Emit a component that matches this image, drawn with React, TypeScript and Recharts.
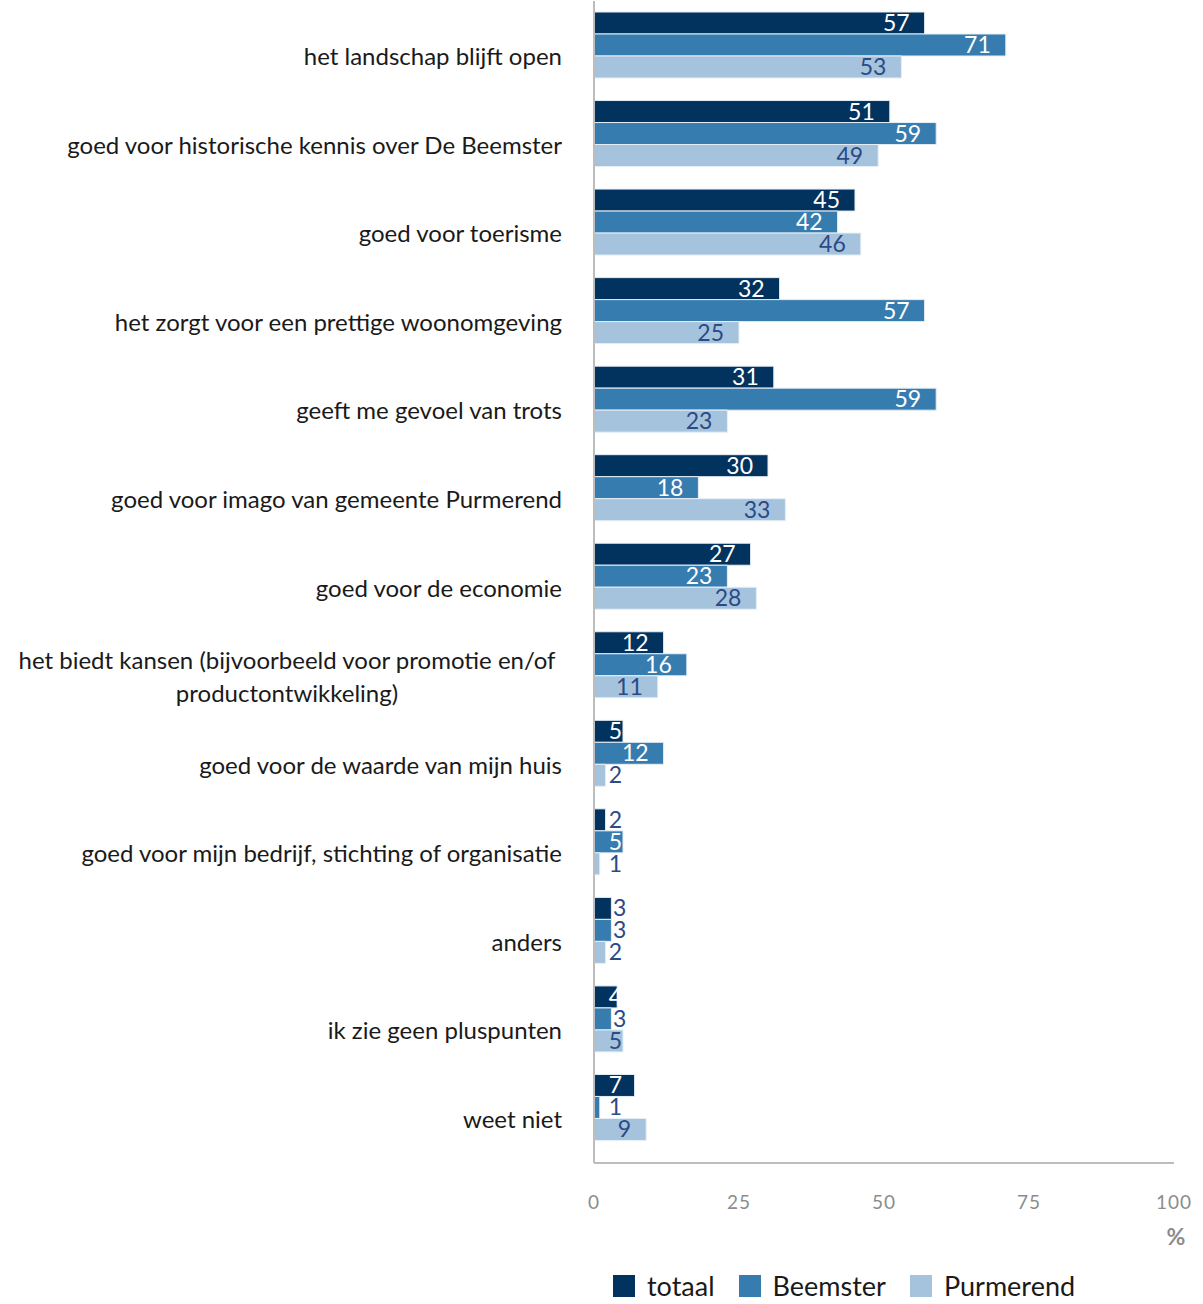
import { BarChart, Bar, XAxis, YAxis, Legend, LabelList } from "recharts"

const categories = [
  "het landschap blijft open",
  "goed voor historische kennis over De Beemster",
  "goed voor toerisme",
  "het zorgt voor een prettige woonomgeving",
  "geeft me gevoel van trots",
  "goed voor imago van gemeente Purmerend",
  "goed voor de economie",
  "het biedt kansen (bijvoorbeeld voor promotie en/of\nproductontwikkeling)",
  "goed voor de waarde van mijn huis",
  "goed voor mijn bedrijf, stichting of organisatie",
  "anders",
  "ik zie geen pluspunten",
  "weet niet",
]

const totaal = [57, 51, 45, 32, 31, 30, 27, 12, 5, 2, 3, 4, 7]
const beemster = [71, 59, 42, 57, 59, 18, 23, 16, 12, 5, 3, 3, 1]
const purmerend = [53, 49, 46, 25, 23, 33, 28, 11, 2, 1, 2, 5, 9]

const xTicks = [0, 25, 50, 75, 100]

const series = [
  { key: "totaal", name: "totaal", color: "#02335e", lightLabel: true },
  { key: "beemster", name: "Beemster", color: "#377caf", lightLabel: true },
  { key: "purmerend", name: "Purmerend", color: "#a5c3dc", lightLabel: false },
]

const data = categories.map((c, i) => ({
  name: c,
  totaal: totaal[i],
  beemster: beemster[i],
  purmerend: purmerend[i],
}))

const FONT = "Lato, 'Open Sans', sans-serif"
const DARK_LABEL = "#2b4a86"

const CategoryTick = (props: any) => {
  const { x, y, payload } = props
  const lines = String(payload.value).split("\n")
  if (lines.length > 1) {
    return (
      <text x={287} y={y + 12} textAnchor="middle" fontSize={24} fill="#1a1a1a" fontFamily={FONT}>
        {lines.map((l, i) => (
          <tspan key={i} x={287} dy={i === 0 ? -8 : 33}>
            {l}
          </tspan>
        ))}
      </text>
    )
  }
  return (
    <text x={x - 24} y={y + 12} dy={8} textAnchor="end" fontSize={24} fill="#1a1a1a" fontFamily={FONT}>
      {payload.value}
    </text>
  )
}

const ValueTick = (props: any) => {
  const { x, y, payload } = props
  return (
    <text x={x} y={y + 38} textAnchor="middle" fontSize={19} fill="#8c8c8c" fontFamily={FONT} letterSpacing={1}>
      {payload.value}
    </text>
  )
}

const makeLabel = (light: boolean) => (props: any) => {
  const { x, y, width, height, value } = props
  const end = x + width
  const outside = value < 4
  const tx = outside ? Math.max(end + 15, 622) : Math.max(end - 15, 622)
  const fill = light && !outside ? "#ffffff" : DARK_LABEL
  return (
    <text x={tx} y={y + height / 2 + 8} textAnchor="end" fontSize={23} fill={fill} fontFamily={FONT}>
      {value}
    </text>
  )
}

const LegendContent = () => (
  <div style={{ display: "flex", alignItems: "center", fontFamily: FONT, fontSize: 27, color: "#1a1a1a" }}>
    {series.map((s) => (
      <div key={s.key} style={{ display: "flex", alignItems: "center", marginRight: 24 }}>
        <span style={{ display: "inline-block", width: 22, height: 22, background: s.color, marginRight: 12 }} />
        <span>{s.name}</span>
      </div>
    ))}
  </div>
)

export default function App() {
  return (
    <div style={{ position: "absolute", left: 0, top: 0, width: 1203, height: 1304, background: "#fff" }}>
      <BarChart
        width={1203}
        height={1304}
        data={data}
        layout="vertical"
        margin={{ top: 1, right: 29, left: 0, bottom: 78 }}
        barGap={0}
        barCategoryGap={11}
      >
        <XAxis
          type="number"
          domain={[0, 100]}
          ticks={xTicks}
          height={30}
          tickLine={false}
          axisLine={{ stroke: "#bdbdbd", strokeWidth: 2 }}
          tick={<ValueTick />}
          label={(p: any) => (
            <text
              x={p.viewBox.x + p.viewBox.width + 2}
              y={p.viewBox.y + 82}
              textAnchor="middle"
              fontSize={23}
              fontWeight="bold"
              fill="#8c8c8c"
              fontFamily={FONT}
            >
              %
            </text>
          )}
        />
        <YAxis
          type="category"
          dataKey="name"
          width={594}
          tickLine={false}
          axisLine={{ stroke: "#bdbdbd", strokeWidth: 2 }}
          padding={{ top: 0, bottom: 11 }}
          interval={0}
          tick={<CategoryTick />}
        />
        <Legend
          verticalAlign="bottom"
          content={<LegendContent />}
          wrapperStyle={{ left: 613, bottom: 2, width: "auto" }}
        />
        {series.map((s) => (
          <Bar
            key={s.key}
            dataKey={s.key}
            name={s.name}
            fill={s.color}
            stroke="#e6eef6"
            strokeWidth={1}
            barSize={22}
            isAnimationActive={false}
          >
            <LabelList dataKey={s.key} content={makeLabel(s.lightLabel)} />
          </Bar>
        ))}
      </BarChart>
    </div>
  )
}
